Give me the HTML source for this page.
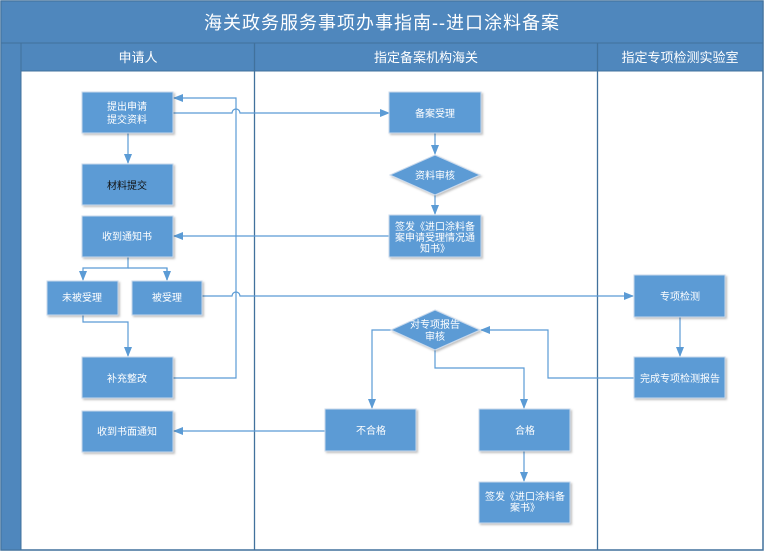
<!DOCTYPE html>
<html><head><meta charset="utf-8"><style>
html,body{margin:0;padding:0;background:#fff;}
svg{display:block;font-family:"Liberation Sans","Noto Sans CJK SC",sans-serif;}
</style></head><body>
<svg width="765" height="553" viewBox="0 0 765 553" xmlns="http://www.w3.org/2000/svg">
<defs>
<marker id="a" markerWidth="10" markerHeight="8" refX="9" refY="4" orient="auto" markerUnits="userSpaceOnUse">
<path d="M0,0 L10,4 L0,8 z" fill="#5b9bd5"/></marker>
<filter id="s" x="-10%" y="-10%" width="130%" height="130%"><feDropShadow dx="1.5" dy="1.5" stdDeviation="1" flood-color="#000" flood-opacity="0.25"/></filter>
</defs>
<rect x="0" y="0" width="765" height="553" fill="#fff"/>
<!-- frame -->
<rect x="1" y="1" width="762" height="549" fill="#fff" stroke="#41719c" stroke-width="1.5"/>
<rect x="1" y="1" width="762" height="42" fill="#4f87bd" stroke="#41719c"/>
<text x="382" y="29" font-size="18" fill="#fff" text-anchor="middle" letter-spacing="1">海关政务服务事项办事指南--进口涂料备案</text>
<rect x="1" y="43" width="20" height="507" fill="#4f87bd" stroke="#41719c"/>
<rect x="21" y="43" width="742" height="28" fill="#4f87bd" stroke="#41719c"/>
<text x="138" y="62" font-size="13" fill="#fff" text-anchor="middle">申请人</text>
<text x="426" y="62" font-size="13" fill="#fff" text-anchor="middle">指定备案机构海关</text>
<text x="680" y="62" font-size="13" fill="#fff" text-anchor="middle">指定专项检测实验室</text>
<line x1="254.5" y1="43" x2="254.5" y2="550" stroke="#41719c" stroke-width="1.3"/>
<line x1="597.5" y1="43" x2="597.5" y2="550" stroke="#41719c" stroke-width="1.3"/>

<!-- connectors -->
<g fill="none" stroke="#5b9bd5" stroke-width="1.2">
<path d="M173,113 H232 A4,4 0 0 1 240,113 H389" marker-end="url(#a)"/>
<path d="M173,378 H236 V98 H174" marker-end="url(#a)"/>
<path d="M128,133 V163" marker-end="url(#a)"/>
<path d="M435,133 V154" marker-end="url(#a)"/>
<path d="M435,195 V214" marker-end="url(#a)"/>
<path d="M390,236 H174" marker-end="url(#a)"/>
<path d="M128,257 V268 H83 V280" marker-end="url(#a)"/>
<path d="M128,268 H167 V280"/>
<path d="M167,268 V280" marker-end="url(#a)"/>
<path d="M83,315 V322 H128 V356" marker-end="url(#a)"/>
<path d="M202,296 H232 A4,4 0 0 1 240,296 H633" marker-end="url(#a)"/>
<path d="M680,317 V356" marker-end="url(#a)"/>
<path d="M634,378 H548 V330 H481" marker-end="url(#a)"/>
<path d="M391,330 H372 V408" marker-end="url(#a)"/>
<path d="M435,350 V368 H524 V408" marker-end="url(#a)"/>
<path d="M325,431 H174" marker-end="url(#a)"/>
<path d="M524,451 V481" marker-end="url(#a)"/>
</g>

<!-- shapes -->
<g fill="#5b9bd5" stroke="#c9d9ec" stroke-width="1" filter="url(#s)">
<rect x="82" y="92" width="91" height="41"/>
<rect x="82" y="164" width="91" height="41"/>
<rect x="82" y="216" width="91" height="41"/>
<rect x="47" y="281" width="71" height="34"/>
<rect x="132" y="281" width="70" height="34"/>
<rect x="82" y="357" width="91" height="41"/>
<rect x="82" y="411" width="91" height="41"/>
<rect x="389" y="92" width="92" height="41"/>
<polygon points="435,155 480,175 435,195 390,175"/>
<rect x="389" y="215" width="92" height="42"/>
<rect x="634" y="275" width="91" height="42"/>
<rect x="634" y="357" width="91" height="41"/>
<polygon points="435,310 480,330 435,350 391,330"/>
<rect x="325" y="409" width="91" height="42"/>
<rect x="479" y="409" width="91" height="42"/>
<rect x="479" y="482" width="91" height="41"/>
</g>

<g font-size="10" fill="#fff" text-anchor="middle">
<text x="127" y="110">提出申请</text>
<text x="127" y="123">提交资料</text>
<text x="127" y="189" fill="#111">材料提交</text>
<text x="127" y="240">收到通知书</text>
<text x="82" y="301">未被受理</text>
<text x="167" y="301">被受理</text>
<text x="127" y="382">补充整改</text>
<text x="127" y="435">收到书面通知</text>
<text x="435" y="117">备案受理</text>
<text x="435" y="179">资料审核</text>
<text x="435" y="230">签发《进口涂料备</text>
<text x="435" y="241">案申请受理情况通</text>
<text x="435" y="252">知书》</text>
<text x="680" y="300">专项检测</text>
<text x="680" y="382">完成专项检测报告</text>
<text x="435" y="328">对专项报告</text>
<text x="435" y="340">审核</text>
<text x="371" y="434">不合格</text>
<text x="525" y="434">合格</text>
<text x="525" y="500">签发《进口涂料备</text>
<text x="525" y="511">案书》</text>
</g>
</svg>
</body></html>
